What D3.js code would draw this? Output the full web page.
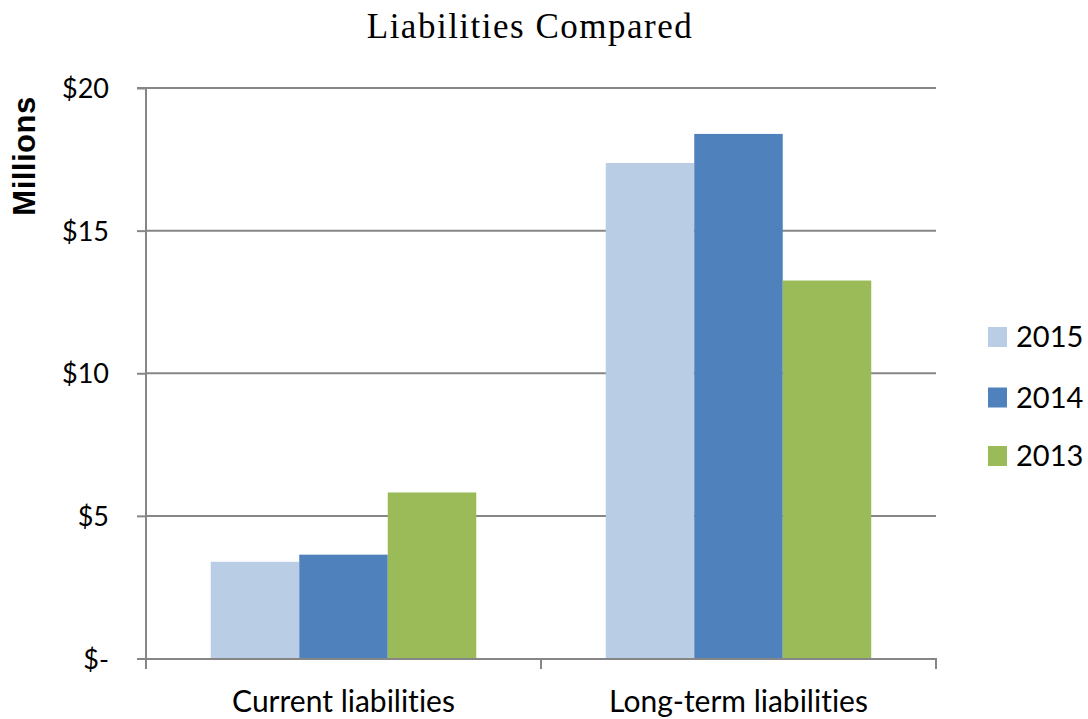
<!DOCTYPE html>
<html>
<head>
<meta charset="utf-8">
<script src="https://cdn.jsdelivr.net/npm/d3@7"></script>
<style>
  html, body { margin: 0; padding: 0; background: #fff; }
  svg { display: block; }
  text { font-variant-ligatures: none; }
</style>
</head>
<body>
<svg id="chart" width="1088" height="719"></svg>
<script>
// Liabilities by type, in millions of dollars
const categories = ["Current liabilities", "Long-term liabilities"];
const years = ["2015", "2014", "2013"];
const values2015 = [3.39, 17.37];
const values2014 = [3.64, 18.39];
const values2013 = [5.82, 13.25];
const yTicks = [0, 5, 10, 15, 20];
const yTickLabels = ["$-", "$5", "$10", "$15", "$20"];
const colors = ["#B9CDE5", "#4F81BD", "#9BBB59"];

const series = [values2015, values2014, values2013];

const svg = d3.select("#chart");
const margin = { left: 146, right: 152, top: 88, bottom: 60 };
const W = 1088, H = 719;
const x0 = margin.left, x1 = W - margin.right;
const y0 = H - margin.bottom, y1 = margin.top;

const labelFont = "Lato, 'Open Sans', sans-serif";

const x = d3.scaleBand().domain(categories).range([x0, x1]).paddingInner(0).paddingOuter(0);
const y = d3.scaleLinear().domain([0, 20]).range([y0 - 0.5, y1]);

// horizontal gridlines
svg.append("g")
  .selectAll("line")
  .data(yTicks.filter(d => d > 0))
  .join("line")
  .attr("x1", x0).attr("x2", x1)
  .attr("y1", d => y(d)).attr("y2", d => y(d))
  .attr("stroke", "#868686").attr("stroke-width", 2);

// bars
const barW = 88.5;
const xs = d3.scaleBand().domain(years).range([0, barW * 3]);
const groups = svg.append("g").selectAll("g")
  .data(categories)
  .join("g")
  .attr("transform", (c) => `translate(${x(c) + (x.bandwidth() - barW * 3) / 2},0)`);

groups.selectAll("rect")
  .data((c, i) => years.map((yr, k) => ({ yr, v: series[k][i], k })))
  .join("rect")
  .attr("x", d => xs(d.yr))
  .attr("width", xs.bandwidth())
  .attr("y", d => y(d.v))
  .attr("height", d => y(0) - y(d.v))
  .attr("fill", d => colors[d.k]);

// y axis
const yAxis = d3.axisLeft(y)
  .tickValues(yTicks)
  .tickFormat((d, i) => yTickLabels[i])
  .tickSize(9)
  .tickPadding(28);
const gy = svg.append("g").attr("transform", `translate(${x0},0)`).call(yAxis);
gy.select(".domain").attr("stroke", "#868686").attr("stroke-width", 2)
  .attr("d", `M-9,${y1}H0V${y0 + 10}`);
gy.selectAll(".tick line").attr("stroke", "#868686").attr("stroke-width", 2);
gy.selectAll(".tick text")
  .attr("font-family", labelFont).attr("font-size", 27).attr("fill", "#000")
  .attr("dy", "0.36em");

// x axis
const xAxis = d3.axisBottom(x).tickSize(0).tickPadding(30);
const gx = svg.append("g").attr("transform", `translate(0,${y0})`).call(xAxis);
gx.select(".domain").attr("stroke", "#868686").attr("stroke-width", 2)
  .attr("d", `M${x0},0H${x1}V10`);
gx.selectAll(".tick text")
  .attr("font-family", labelFont).attr("font-size", 30).attr("fill", "#000")
  .attr("dy", 0).attr("y", 53);
// category divider ticks
svg.append("g").selectAll("line")
  .data(categories.slice(1))
  .join("line")
  .attr("x1", c => x(c)).attr("x2", c => x(c))
  .attr("y1", y0).attr("y2", y0 + 10)
  .attr("stroke", "#868686").attr("stroke-width", 2);

// title
svg.append("text")
  .attr("x", 530).attr("y", 38)
  .attr("text-anchor", "middle")
  .attr("font-family", "'Liberation Serif', 'DejaVu Serif', serif")
  .attr("font-size", 35)
  .attr("letter-spacing", 1.5)
  .attr("fill", "#000")
  .text("Liabilities Compared");

// y axis title
svg.append("text")
  .attr("transform", "translate(35,156) rotate(-90)")
  .attr("text-anchor", "middle")
  .attr("font-family", "'Liberation Sans', Arial, sans-serif")
  .attr("font-weight", "bold")
  .attr("font-size", 31)
  .attr("letter-spacing", 0.5)
  .attr("fill", "#000")
  .text("Millions");

// legend
const legendY = [337, 397.5, 456];
const legend = svg.append("g").selectAll("g")
  .data(years)
  .join("g")
  .attr("transform", (d, i) => `translate(988,${legendY[i]})`);
legend.append("rect")
  .attr("x", 0).attr("y", -10).attr("width", 19).attr("height", 20)
  .attr("fill", (d, i) => colors[i]);
legend.append("text")
  .attr("x", 28).attr("y", 0).attr("dy", "0.36em")
  .attr("font-family", labelFont).attr("font-size", 29).attr("fill", "#000")
  .text(d => d);
</script>
</body>
</html>
